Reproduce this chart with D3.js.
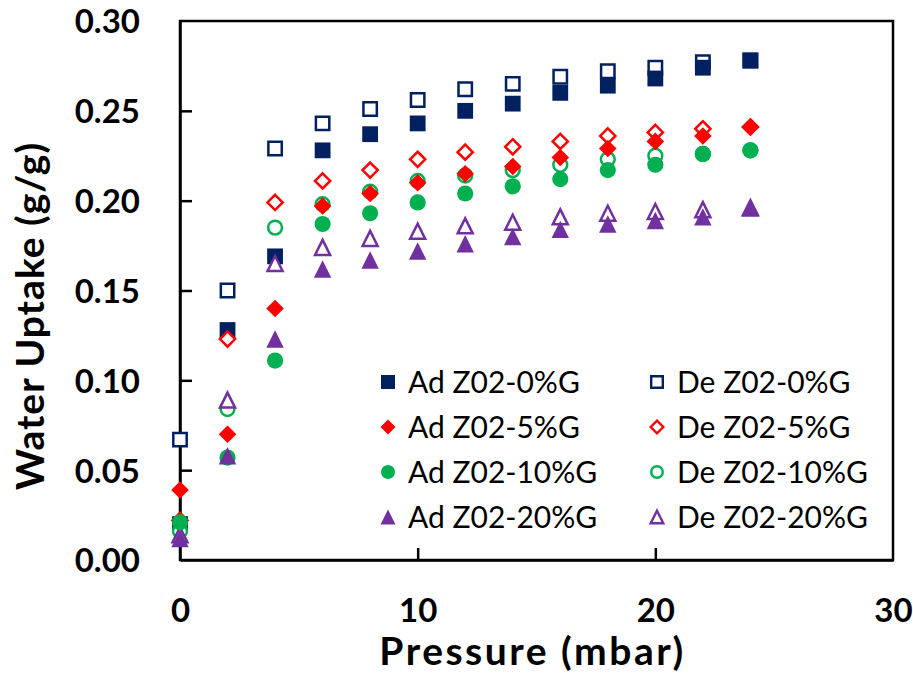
<!DOCTYPE html>
<html>
<head>
<meta charset="utf-8">
<script src="https://cdn.jsdelivr.net/npm/d3@7"></script>
<style>
  body { margin: 0; background: #fff; }
  text { font-family: Lato, "Open Sans", sans-serif; }
</style>
</head>
<body>
<svg id="chart"></svg>
<script>
// pressure steps (mbar) - same for every series
const pressure = [0, 2, 4, 6, 8, 10, 12, 14, 16, 18, 20, 22, 24]

// adsorption / desorption uptake (g/g)
const adZ0 = [0.020, 0.128, 0.169, 0.228, 0.237, 0.243, 0.250, 0.254, 0.260, 0.264, 0.268, 0.274, 0.278]
const deZ0 = [0.067, 0.150, 0.229, 0.243, 0.251, 0.256, 0.262, 0.265, 0.269, 0.272, 0.274, 0.277, 0.278]
const adZ5 = [0.039, 0.070, 0.140, 0.197, 0.204, 0.210, 0.215, 0.219, 0.224, 0.229, 0.233, 0.236, 0.241]
const deZ5 = [0.022, 0.123, 0.199, 0.211, 0.217, 0.223, 0.227, 0.230, 0.233, 0.236, 0.238, 0.240, 0.241]
const adZ10 = [0.021, 0.057, 0.111, 0.187, 0.193, 0.199, 0.204, 0.208, 0.212, 0.217, 0.220, 0.226, 0.228]
const deZ10 = [0.016, 0.084, 0.185, 0.198, 0.205, 0.211, 0.214, 0.217, 0.220, 0.223, 0.225, 0.226, 0.228]
const adZ20 = [0.012, 0.058, 0.123, 0.162, 0.167, 0.172, 0.176, 0.180, 0.184, 0.187, 0.189, 0.191, 0.196]
const deZ20 = [0.014, 0.089, 0.165, 0.174, 0.179, 0.183, 0.186, 0.188, 0.191, 0.193, 0.194, 0.195, 0.196]

// legend order (row by row, Ad column then De column)
const seriesNames = ['Ad Z02-0%G', 'De Z02-0%G', 'Ad Z02-5%G', 'De Z02-5%G',
                     'Ad Z02-10%G', 'De Z02-10%G', 'Ad Z02-20%G', 'De Z02-20%G']

const xTicks = [0, 10, 20, 30]
const yTicks = [0, 0.05, 0.10, 0.15, 0.20, 0.25, 0.30]

// marker shapes, centred on 0,0
const shapes = {
    square: r => `M${-r},${-r}H${r}V${r}H${-r}Z`,
    diamond: r => `M0,${-r}L${r},0L0,${r}L${-r},0Z`,
    circle: r => `M${r},0A${r},${r} 0 1,1 ${-r},0A${r},${r} 0 1,1 ${r},0Z`,
    triangle: r => `M0,${-r}L${r},${r}L${-r},${r}Z`
}

// series table built from the arrays above (drawing order = excel stacking)
const series = [
    {name: seriesNames[1], values: deZ0, color: '#002060', shape: 'square', open: true},
    {name: seriesNames[0], values: adZ0, color: '#002060', shape: 'square', open: false},
    {name: seriesNames[3], values: deZ5, color: '#FF0000', shape: 'diamond', open: true},
    {name: seriesNames[5], values: deZ10, color: '#00B050', shape: 'circle', open: true},
    {name: seriesNames[7], values: deZ20, color: '#7030A0', shape: 'triangle', open: true},
    {name: seriesNames[2], values: adZ5, color: '#FF0000', shape: 'diamond', open: false},
    {name: seriesNames[4], values: adZ10, color: '#00B050', shape: 'circle', open: false},
    {name: seriesNames[6], values: adZ20, color: '#7030A0', shape: 'triangle', open: false}
]

// marker half-size per shape (plot)
const markerR = {square: 7.9, diamond: 8.8, circle: 8.1, triangle: 8.7}

const W = 913, H = 679
const margin = {top: 21, right: 20, bottom: 119, left: 180}
const width = W - margin.left - margin.right
const height = H - margin.top - margin.bottom

const svg = d3.select('#chart').attr('width', W).attr('height', H)
const g = svg.append('g').attr('transform', `translate(${margin.left},${margin.top})`)

const x = d3.scaleLinear().domain([0, 30]).range([0, width])
const y = d3.scaleLinear().domain([0, 0.30]).range([height, 0])

// frame round the plot (top + right have no ticks)
g.append('rect')
    .attr('width', width).attr('height', height)
    .attr('fill', 'none').attr('stroke', '#000').attr('stroke-width', 2.5)

// axes - ticks point inward like excel
const xAxis = d3.axisBottom(x).tickValues(xTicks).tickSizeInner(-12).tickSizeOuter(0)
    .tickFormat(d3.format('d'))
const yAxis = d3.axisLeft(y).tickValues(yTicks).tickSizeInner(-12).tickSizeOuter(0)
    .tickFormat(d3.format('.2f')).tickPadding(40)

const xg = g.append('g').attr('transform', `translate(0,${height})`).call(xAxis)
const yg = g.append('g').call(yAxis)

for (const ag of [xg, yg]) {
    ag.select('.domain').attr('stroke', '#000').attr('stroke-width', 2.5)
    ag.selectAll('.tick line').attr('stroke', '#000').attr('stroke-width', 2.5)
    ag.selectAll('.tick text')
        .attr('font-family', 'Lato, "Open Sans", sans-serif')
        .attr('font-size', 33).attr('font-weight', 700).attr('fill', '#000')
}
// x labels: baseline ~622 like the reference
xg.selectAll('.tick text').attr('dy', null).attr('y', 62)
yg.selectAll('.tick text').attr('dy', '0.36em')

// tick marks at the corners sit on the frame anyway
xg.selectAll('.tick').filter(d => d === 0 || d === 30).select('line').remove()
yg.selectAll('.tick').filter(d => d === 0 || d === 0.30).select('line').remove()

// axis titles (a bit of letter spacing - calibri runs wider than lato here)
svg.append('text')
    .attr('x', margin.left + width / 2 - 4).attr('y', 665)
    .attr('text-anchor', 'middle')
    .attr('font-size', 39).attr('font-weight', 700)
    .attr('letter-spacing', 2.5)
    .text('Pressure (mbar)')

svg.append('text')
    .attr('transform', 'translate(44,316) rotate(-90)')
    .attr('text-anchor', 'middle')
    .attr('font-size', 39).attr('font-weight', 700)
    .attr('letter-spacing', 1)
    .text('Water Uptake (g/g)')

// points!
const pts = g.append('g')
series.forEach(s => {
    pts.append('g').selectAll('path')
        .data(s.values.map((v, i) => ({p: pressure[i], v})))
        .join('path')
            .attr('transform', d => `translate(${x(d.p)},${y(d.v)})`)
            .attr('d', shapes[s.shape](s.open ? markerR[s.shape] - 1.2 : markerR[s.shape]))
            .attr('fill', s.open ? '#fff' : s.color)
            .attr('stroke', s.open ? s.color : 'none')
            .attr('stroke-width', 2.5)
})

// legend - 2 columns x 4 rows
const legX = [388, 657]
const legRow = d3.scalePoint().domain([0, 1, 2, 3]).range([382, 517])
const legendR = {square: 7, diamond: 7.5, circle: 7, triangle: 7.5}

const leg = svg.append('g')
seriesNames.forEach((name, i) => {
    const s = series.find(d => d.name === name)
    const col = i % 2, row = Math.floor(i / 2)
    const lx = legX[col], ly = legRow(row)
    leg.append('path')
        .attr('transform', `translate(${lx},${ly})`)
        .attr('d', shapes[s.shape](s.open ? legendR[s.shape] - 1.2 : legendR[s.shape]))
        .attr('fill', s.open ? '#fff' : s.color)
        .attr('stroke', s.open ? s.color : 'none')
        .attr('stroke-width', 2.4)
    leg.append('text')
        .attr('x', lx + 20).attr('y', ly).attr('dy', '0.36em')
        .attr('font-size', 30)
        .text(name)
})
</script>
</body>
</html>
